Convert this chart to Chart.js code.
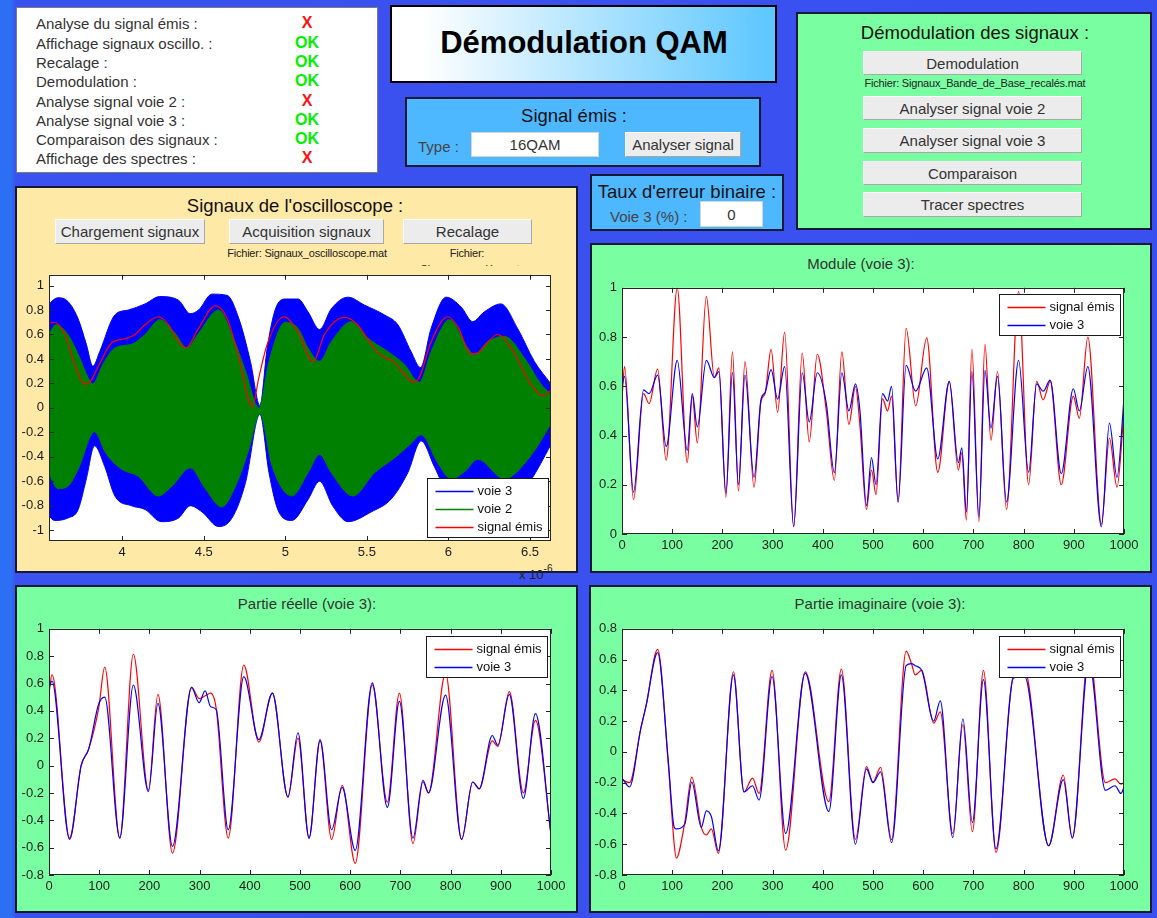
<!DOCTYPE html>
<html lang="fr">
<head>
<meta charset="utf-8">
<title>Démodulation QAM</title>
<script src="https://cdn.jsdelivr.net/npm/chart.js@4.4.1/dist/chart.umd.min.js"></script>
<style>
  html, body { margin: 0; padding: 0; }
  body {
    width: 1157px; height: 918px; position: relative; overflow: hidden;
    background: linear-gradient(90deg, #2c6ef4 0, #2c6ef4 11px, #3a52ef 16px, #3a4ff0 100%);
    font-family: "Liberation Sans", Arial, sans-serif; color: #333;
  }
  .box { position: absolute; box-sizing: border-box; }
  .panel { position: absolute; box-sizing: border-box; border: 2px solid #151935; }
  .green { background: #79ffa1; }
  .sky { background: #4db8ff; }
  .t { position: absolute; white-space: nowrap; transform: translate(-50%, -50%); }
  .l { position: absolute; white-space: nowrap; transform: translateY(-50%); }
  .h { font-size: 18.5px; color: #111; }
  .lab { font-size: 15px; color: #444; }
  .small { font-size: 11px; color: #222; letter-spacing: -0.2px; }
  .btn {
    position: absolute; box-sizing: border-box; background: #ececec;
    border: 1px solid; border-color: #fcfcfc #a8a8a8 #a8a8a8 #fcfcfc;
    font-size: 15px; color: #333; display: flex; align-items: center; justify-content: center; white-space: nowrap;
  }
  .field {
    position: absolute; box-sizing: border-box; background: #fff; border: 1px solid #d4d4d4;
    font-size: 15px; color: #333; display: flex; align-items: center; justify-content: center;
  }
  .ok { font-weight: bold; font-size: 16px; color: #00f000; }
  .ko { font-weight: bold; font-size: 16px; color: #ff1010; }
  .ct { font-size: 15px; color: #333; }
  canvas { position: absolute; }
</style>
</head>
<body>

<!-- état des étapes -->
<div class="box" style="left:16px;top:7px;width:362px;height:166px;background:#fff;border:1px solid #7c7c7c;"></div>
<div class="l lab" style="left:36px;top:23px;color:#333">Analyse du signal émis :</div>
<div class="l lab" style="left:36px;top:43px;color:#333">Affichage signaux oscillo. :</div>
<div class="l lab" style="left:36px;top:62px;color:#333">Recalage :</div>
<div class="l lab" style="left:36px;top:81px;color:#333">Demodulation :</div>
<div class="l lab" style="left:36px;top:101px;color:#333">Analyse signal voie 2 :</div>
<div class="l lab" style="left:36px;top:120px;color:#333">Analyse signal voie 3 :</div>
<div class="l lab" style="left:36px;top:139px;color:#333">Comparaison des signaux :</div>
<div class="l lab" style="left:36px;top:158px;color:#333">Affichage des spectres :</div>
<div class="t ko" style="left:307px;top:23px">X</div>
<div class="t ok" style="left:307px;top:43px">OK</div>
<div class="t ok" style="left:307px;top:62px">OK</div>
<div class="t ok" style="left:307px;top:81px">OK</div>
<div class="t ko" style="left:307px;top:101px">X</div>
<div class="t ok" style="left:307px;top:120px">OK</div>
<div class="t ok" style="left:307px;top:139px">OK</div>
<div class="t ko" style="left:307px;top:158px">X</div>

<!-- titre -->
<div class="box" style="left:390px;top:5px;width:387px;height:78px;border:2px solid #000;background:linear-gradient(90deg,#ffffff 8%,#5bc6ff 100%);"></div>
<div class="t" style="left:584px;top:43px;font-size:31px;font-weight:bold;color:#000">Démodulation QAM</div>

<!-- signal émis -->
<div class="panel sky" style="left:405px;top:97px;width:356px;height:70px;"></div>
<div class="t h" style="left:574px;top:116px">Signal émis :</div>
<div class="l lab" style="left:418px;top:146px">Type :</div>
<div class="field" style="left:471px;top:132px;width:128px;height:25px;">16QAM</div>
<div class="btn" style="left:625px;top:132px;width:116px;height:25px;">Analyser signal</div>

<!-- taux d'erreur -->
<div class="panel sky" style="left:590px;top:174px;width:194px;height:57px;"></div>
<div class="t h" style="left:687px;top:192px">Taux d'erreur binaire :</div>
<div class="l lab" style="left:610px;top:216px">Voie 3 (%) :</div>
<div class="field" style="left:700px;top:201px;width:63px;height:26px;">0</div>

<!-- démodulation -->
<div class="panel green" style="left:796px;top:12px;width:356px;height:218px;"></div>
<div class="t h" style="left:975px;top:33px">Démodulation des signaux :</div>
<div class="btn" style="left:863px;top:51px;width:219px;height:24px;">Demodulation</div>
<div class="t small" style="left:975px;top:83px">Fichier: Signaux_Bande_de_Base_recalés.mat</div>
<div class="btn" style="left:863px;top:96px;width:219px;height:24px;">Analyser signal voie 2</div>
<div class="btn" style="left:863px;top:128px;width:219px;height:25px;">Analyser signal voie 3</div>
<div class="btn" style="left:863px;top:161px;width:219px;height:24px;">Comparaison</div>
<div class="btn" style="left:863px;top:192px;width:219px;height:25px;">Tracer spectres</div>

<!-- oscilloscope -->
<div class="panel" style="left:15px;top:186px;width:563px;height:387px;background:#ffe9a6;"></div>
<div class="t h" style="left:295px;top:206px">Signaux de l'oscilloscope :</div>
<div class="btn" style="left:55px;top:219px;width:150px;height:25px;">Chargement signaux</div>
<div class="btn" style="left:229px;top:219px;width:155px;height:25px;">Acquisition signaux</div>
<div class="btn" style="left:403px;top:219px;width:129px;height:25px;">Recalage</div>
<div class="t small" style="left:307px;top:253px">Fichier: Signaux_oscilloscope.mat</div>
<div class="t small" style="left:467px;top:253px">Fichier:</div>
<div class="box" style="left:400px;top:258px;width:140px;height:8px;overflow:hidden;">
  <div class="small" style="position:absolute;left:0;width:140px;top:5px;line-height:12px;text-align:center;">Signaux_recalés.mat</div>
</div>

<!-- panneaux des courbes -->
<div class="panel green" style="left:590px;top:243px;width:562px;height:330px;"></div>
<div class="t ct" style="left:861px;top:263px">Module (voie 3):</div>
<div class="panel green" style="left:15px;top:585px;width:563px;height:328px;"></div>
<div class="t ct" style="left:307px;top:603px">Partie réelle (voie 3):</div>
<div class="panel green" style="left:589px;top:585px;width:563px;height:328px;"></div>
<div class="t ct" style="left:880px;top:603px">Partie imaginaire (voie 3):</div>

<canvas id="cOsc" width="558" height="300" style="left:17px;top:262px;width:558px;height:300px"></canvas>
<canvas id="cModule" width="556" height="290" style="left:592px;top:275px;width:556px;height:290px"></canvas>
<canvas id="cReel" width="558" height="290" style="left:17px;top:616px;width:558px;height:290px"></canvas>
<canvas id="cImag" width="556" height="290" style="left:592px;top:616px;width:556px;height:290px"></canvas>

<div class="box" style="left:519px;top:565px;font-size:13px;color:#222;white-space:nowrap;">x 10<sup style="font-size:10px;position:relative;top:-2px">-6</sup></div>

<script>
// --- oscilloscope (temps en 10^-6 s) ---
const oscXTicks = [4, 4.5, 5, 5.5, 6, 6.5];
const oscYTicks = [-1, -0.8, -0.6, -0.4, -0.2, 0, 0.2, 0.4, 0.6, 0.8, 1];

const voie3HautT = [3.548, 3.606, 3.667, 3.729, 3.78, 3.82, 3.862, 3.955, 4.037, 4.14, 4.23, 4.345, 4.417, 4.468, 4.55, 4.643, 4.715, 4.786, 4.844, 4.889, 4.94, 5.0, 5.078, 5.139, 5.21, 5.282, 5.384, 5.486, 5.608, 5.69, 5.771, 5.829, 5.894, 5.986, 6.078, 6.149, 6.22, 6.322, 6.424, 6.527, 6.629];
const voie3Haut = [0.85, 0.9, 0.87, 0.73, 0.52, 0.34, 0.46, 0.76, 0.8, 0.85, 0.91, 0.88, 0.77, 0.8, 0.93, 0.92, 0.73, 0.38, 0.02, 0.49, 0.81, 0.89, 0.89, 0.785, 0.64, 0.81, 0.905, 0.84, 0.76, 0.68, 0.46, 0.33, 0.65, 0.905, 0.825, 0.705, 0.785, 0.85, 0.65, 0.38, 0.195];

const voie3BasT = [3.548, 3.585, 3.667, 3.73, 3.78, 3.83, 3.893, 3.955, 4.057, 4.14, 4.24, 4.345, 4.417, 4.489, 4.591, 4.673, 4.756, 4.844, 4.9, 4.96, 5.04, 5.139, 5.21, 5.29, 5.384, 5.527, 5.649, 5.751, 5.833, 5.914, 5.996, 6.1, 6.18, 6.33, 6.5, 6.629];
const voie3Bas = [-0.88, -0.92, -0.9, -0.83, -0.58, -0.31, -0.48, -0.72, -0.8, -0.83, -0.93, -0.9, -0.8, -0.85, -0.97, -0.9, -0.61, -0.05, -0.53, -0.85, -0.92, -0.75, -0.6, -0.8, -0.93, -0.85, -0.745, -0.53, -0.27, -0.48, -0.7, -0.75, -0.58, -0.82, -0.6, -0.3];

const voie2HautT = [3.548, 3.595, 3.667, 3.729, 3.79, 3.82, 3.883, 3.955, 4.057, 4.14, 4.23, 4.324, 4.396, 4.468, 4.591, 4.673, 4.756, 4.838, 4.9, 5.0, 5.078, 5.139, 5.21, 5.282, 5.404, 5.506, 5.629, 5.73, 5.822, 5.894, 6.006, 6.118, 6.159, 6.24, 6.343, 6.465, 6.567, 6.629];
const voie2Haut = [0.6, 0.68, 0.6, 0.44, 0.25, 0.195, 0.36, 0.49, 0.52, 0.6, 0.72, 0.61, 0.49, 0.61, 0.8, 0.6, 0.3, 0.0, 0.38, 0.7, 0.65, 0.49, 0.38, 0.54, 0.705, 0.57, 0.46, 0.355, 0.21, 0.46, 0.72, 0.49, 0.435, 0.54, 0.585, 0.41, 0.195, 0.11];

const voie2BasT = [3.548, 3.606, 3.667, 3.73, 3.83, 3.9, 3.995, 4.1, 4.22, 4.304, 4.417, 4.51, 4.61, 4.694, 4.776, 4.844, 4.92, 5.04, 5.139, 5.21, 5.282, 5.414, 5.547, 5.669, 5.771, 5.833, 5.935, 6.016, 6.1, 6.18, 6.343, 6.5, 6.629];
const voie2Bas = [-0.53, -0.66, -0.64, -0.5, -0.195, -0.37, -0.5, -0.56, -0.72, -0.64, -0.49, -0.66, -0.81, -0.64, -0.34, -0.05, -0.48, -0.72, -0.53, -0.38, -0.53, -0.72, -0.53, -0.41, -0.29, -0.22, -0.45, -0.58, -0.52, -0.42, -0.58, -0.4, -0.13];

const emisOscT = [3.548, 3.585, 3.647, 3.708, 3.766, 3.8, 3.85, 3.934, 4.016, 4.078, 4.14, 4.222, 4.283, 4.345, 4.39, 4.468, 4.571, 4.643, 4.715, 4.797, 4.838, 4.889, 4.99, 5.078, 5.17, 5.24, 5.363, 5.435, 5.567, 5.669, 5.73, 5.78, 5.822, 5.894, 5.996, 6.057, 6.139, 6.18, 6.302, 6.384, 6.506, 6.578, 6.629];
const emisOsc = [0.7, 0.7, 0.6, 0.36, 0.195, 0.21, 0.33, 0.53, 0.565, 0.6, 0.68, 0.745, 0.68, 0.54, 0.49, 0.65, 0.835, 0.73, 0.41, 0.007, 0.25, 0.52, 0.745, 0.62, 0.375, 0.6, 0.74, 0.69, 0.45, 0.37, 0.275, 0.21, 0.25, 0.54, 0.745, 0.665, 0.44, 0.45, 0.6, 0.49, 0.195, 0.1, 0.146];

// --- signaux démodulés (indice d'échantillon) ---
const idxTicks = [0, 100, 200, 300, 400, 500, 600, 700, 800, 900, 1000];
const moduleYTicks = [0, 0.2, 0.4, 0.6, 0.8, 1];
const reelYTicks = [-0.8, -0.6, -0.4, -0.2, 0, 0.2, 0.4, 0.6, 0.8, 1];
const imagYTicks = [-0.8, -0.6, -0.4, -0.2, 0, 0.2, 0.4, 0.6, 0.8];

const moduleIdx = [0, 5, 23, 43, 54, 71, 88, 110, 130, 140, 150, 168, 184, 193, 207, 220, 232, 245, 263, 277, 285, 297, 310, 324, 342, 359, 373, 389, 407, 423, 438, 452, 465, 474, 487, 497, 506, 519, 529, 537, 550, 566, 585, 607, 629, 652, 670, 677, 686, 697, 711, 723, 735, 748, 766, 790, 810, 826, 839, 853, 875, 899, 911, 928, 955, 971, 986, 1000];
const moduleEmis = [0.55, 0.68, 0.14, 0.57, 0.53, 0.67, 0.3, 1.0, 0.29, 0.56, 0.37, 0.965, 0.635, 0.675, 0.15, 0.74, 0.175, 0.7, 0.19, 0.54, 0.57, 0.75, 0.495, 0.82, 0.03, 0.735, 0.375, 0.73, 0.5, 0.218, 0.74, 0.445, 0.6, 0.44, 0.1, 0.26, 0.16, 0.55, 0.5, 0.56, 0.13, 0.835, 0.52, 0.797, 0.25, 0.62, 0.26, 0.33, 0.056, 0.75, 0.05, 0.77, 0.38, 0.66, 0.1, 0.985, 0.2, 0.62, 0.545, 0.62, 0.2, 0.56, 0.47, 0.8, 0.04, 0.39, 0.19, 0.5];
const moduleVoie3 = [0.6, 0.64, 0.17, 0.585, 0.57, 0.645, 0.355, 0.705, 0.34, 0.57, 0.435, 0.705, 0.635, 0.66, 0.165, 0.657, 0.2, 0.645, 0.23, 0.548, 0.575, 0.668, 0.548, 0.68, 0.03, 0.655, 0.455, 0.655, 0.53, 0.249, 0.655, 0.5, 0.61, 0.5, 0.115, 0.31, 0.2, 0.57, 0.54, 0.6, 0.13, 0.685, 0.58, 0.675, 0.305, 0.62, 0.29, 0.35, 0.09, 0.66, 0.07, 0.665, 0.43, 0.64, 0.13, 0.705, 0.25, 0.61, 0.58, 0.625, 0.245, 0.59, 0.5, 0.68, 0.03, 0.45, 0.23, 0.55];

const reelIdx = [0, 6, 41, 64, 79, 99, 111, 141, 168, 198, 217, 246, 284, 299, 311, 322, 333, 357, 388, 418, 445, 476, 496, 518, 540, 563, 584, 610, 644, 674, 698, 725, 745, 756, 790, 822, 844, 857, 883, 894, 917, 945, 969, 1000];
const reelEmis = [0.53, 0.665, -0.53, 0.0, 0.12, 0.42, 0.72, -0.53, 0.814, -0.18, 0.52, -0.641, 0.574, 0.49, 0.51, 0.53, 0.42, -0.53, 0.735, 0.172, 0.53, -0.23, 0.2, -0.53, 0.18, -0.54, -0.144, -0.715, 0.59, -0.268, 0.53, -0.57, -0.12, -0.2, 0.675, -0.54, -0.12, -0.17, 0.18, 0.14, 0.54, -0.2, 0.33, -0.5];
const reelVoie3 = [0.57, 0.617, -0.54, 0.0, 0.12, 0.45, 0.5, -0.53, 0.589, -0.19, 0.455, -0.59, 0.57, 0.46, 0.546, 0.43, 0.41, -0.47, 0.65, 0.19, 0.53, -0.23, 0.24, -0.53, 0.19, -0.47, -0.16, -0.62, 0.605, -0.306, 0.47, -0.53, -0.108, -0.2, 0.515, -0.54, -0.12, -0.17, 0.22, 0.15, 0.52, -0.24, 0.38, -0.51];

const imagIdx = [0, 15, 37, 48, 71, 92, 104, 108, 125, 139, 158, 168, 178, 192, 222, 243, 260, 273, 299, 326, 365, 412, 437, 465, 487, 500, 515, 537, 566, 577, 584, 597, 621, 634, 659, 679, 698, 720, 745, 780, 802, 850, 879, 897, 930, 963, 982, 994, 1000];
const imagEmis = [-0.18, -0.2, 0.145, 0.3, 0.666, -0.07, -0.6, -0.69, -0.46, -0.164, -0.49, -0.54, -0.5, -0.66, 0.521, -0.26, -0.17, -0.27, 0.53, -0.638, 0.52, -0.323, 0.538, -0.568, -0.096, -0.196, -0.1, -0.57, 0.655, 0.57, 0.5, 0.53, 0.187, 0.26, -0.53, 0.177, -0.519, 0.53, -0.653, 0.5, 0.53, -0.61, -0.15, -0.557, 0.65, -0.2, -0.175, -0.21, -0.2];
const imagVoie3 = [-0.17, -0.228, 0.145, 0.3, 0.645, -0.05, -0.49, -0.5, -0.47, -0.196, -0.49, -0.383, -0.42, -0.643, 0.5, -0.26, -0.22, -0.313, 0.49, -0.53, 0.51, -0.387, 0.5, -0.6, -0.11, -0.2, -0.13, -0.59, 0.56, 0.574, 0.56, 0.53, 0.2, 0.332, -0.557, 0.215, -0.46, 0.47, -0.63, 0.48, 0.49, -0.61, -0.18, -0.56, 0.6, -0.25, -0.22, -0.27, -0.23];

const ROUGE = "#ff0000";
const BLEU = "#0000ff";
const VERT = "#008000";
const tickFont = { family: "'Liberation Sans', Arial, sans-serif", size: 13 };

function pts(xs, ys) {
  return xs.map((x, i) => ({ x, y: ys[i] }));
}

const fmt = (v) => String(Math.round(v * 10) / 10);

// cadre façon axes matlab : fond blanc, graduations vers l'intérieur, légende dans le tracé
function matlabFrame(legend) {
  return {
    id: "matlabFrame",
    beforeDraw(chart) {
      const { ctx, chartArea: a } = chart;
      ctx.save();
      ctx.fillStyle = "#fff";
      ctx.fillRect(a.left, a.top, a.right - a.left, a.bottom - a.top);
      ctx.restore();
    },
    afterDatasetsDraw(chart) {
      const { ctx, chartArea: a, scales } = chart;
      ctx.save();
      ctx.strokeStyle = "#262626";
      ctx.lineWidth = 1;
      ctx.beginPath();
      for (const t of scales.x.ticks) {
        const px = Math.round(scales.x.getPixelForValue(t.value)) + 0.5;
        ctx.moveTo(px, a.bottom); ctx.lineTo(px, a.bottom - 5);
        ctx.moveTo(px, a.top); ctx.lineTo(px, a.top + 5);
      }
      for (const t of scales.y.ticks) {
        const py = Math.round(scales.y.getPixelForValue(t.value)) + 0.5;
        ctx.moveTo(a.left, py); ctx.lineTo(a.left + 5, py);
        ctx.moveTo(a.right, py); ctx.lineTo(a.right - 5, py);
      }
      ctx.stroke();
      ctx.strokeRect(Math.round(a.left) + 0.5, Math.round(a.top) + 0.5, Math.round(a.right - a.left) - 1, Math.round(a.bottom - a.top) - 1);

      const w = 121;
      const h = legend.items.length * 18 + 5;
      const x = Math.round(a.right - legend.dx - w) + 0.5;
      const y = Math.round(legend.corner === "ne" ? a.top + legend.dy : a.bottom - legend.dy - h) + 0.5;
      ctx.fillStyle = "#fff";
      ctx.fillRect(x, y, w, h);
      ctx.strokeStyle = "#1a1a1a";
      ctx.strokeRect(x, y, w, h);
      ctx.font = "13px 'Liberation Sans', Arial, sans-serif";
      ctx.textBaseline = "middle";
      legend.items.forEach((it, i) => {
        const cy = Math.round(y + 12 + i * 18) + 0.5;
        ctx.strokeStyle = it.color;
        ctx.lineWidth = 1.3;
        ctx.beginPath();
        ctx.moveTo(x + 8, cy); ctx.lineTo(x + 46, cy);
        ctx.stroke();
        ctx.fillStyle = "#111";
        ctx.fillText(it.label, x + 50, cy);
      });
      ctx.restore();
    },
  };
}

function makeChart(id, datasets, o) {
  return new Chart(document.getElementById(id), {
    type: "line",
    data: { datasets },
    options: {
      responsive: false,
      animation: false,
      devicePixelRatio: 1,
      layout: { padding: { top: o.padTop, right: o.padRight, left: 0, bottom: 0 } },
      elements: {
        point: { radius: 0 },
        line: { borderWidth: 1.2, cubicInterpolationMode: "monotone" },
      },
      plugins: { legend: { display: false }, tooltip: { enabled: false } },
      scales: {
        x: {
          type: "linear", min: o.xMin, max: o.xMax,
          grid: { display: false, drawTicks: false }, border: { display: false },
          afterBuildTicks: (s) => { s.ticks = o.xTicks.map((v) => ({ value: v })); },
          afterFit: (s) => { s.height = o.xH; },
          ticks: { autoSkip: false, maxRotation: 0, padding: 4, color: "#1c1c1c", font: tickFont, callback: fmt },
        },
        y: {
          type: "linear", min: o.yMin, max: o.yMax,
          grid: { display: false, drawTicks: false }, border: { display: false },
          afterBuildTicks: (s) => { s.ticks = o.yTicks.map((v) => ({ value: v })); },
          afterFit: (s) => { s.width = o.yW; },
          ticks: { autoSkip: false, padding: 5, color: "#1c1c1c", font: tickFont, callback: fmt },
        },
      },
    },
    plugins: [matlabFrame(o.legend)],
  });
}

const env = (xs, ys, color, order) => ({
  data: pts(xs, ys), borderColor: color, backgroundColor: color, borderWidth: 1, fill: "origin", order,
});

makeChart("cOsc", [
  { data: pts(emisOscT, emisOsc), borderColor: ROUGE, order: 0, fill: false },
  env(voie2HautT, voie2Haut, VERT, 1),
  env(voie2BasT, voie2Bas, VERT, 1),
  env(voie3HautT, voie3Haut, BLEU, 2),
  env(voie3BasT, voie3Bas, BLEU, 2),
], {
  xMin: 3.551, xMax: 6.629, xTicks: oscXTicks, yMin: -1.088, yMax: 1.088, yTicks: oscYTicks,
  padTop: 9, padRight: 24, yW: 32, xH: 21,
  legend: { corner: "se", dx: 3, dy: 4, items: [
    { label: "voie 3", color: BLEU }, { label: "voie 2", color: VERT }, { label: "signal émis", color: ROUGE },
  ] },
});

const comparaison = [{ label: "signal émis", color: ROUGE }, { label: "voie 3", color: BLEU }];

makeChart("cModule", [
  { data: pts(moduleIdx, moduleEmis), borderColor: ROUGE, order: 1, fill: false },
  { data: pts(moduleIdx, moduleVoie3), borderColor: BLEU, order: 0, fill: false },
], {
  xMin: 0, xMax: 1000, xTicks: idxTicks, yMin: 0, yMax: 1, yTicks: moduleYTicks,
  padTop: 8, padRight: 24, yW: 30, xH: 31,
  legend: { corner: "ne", dx: 4, dy: 6, items: comparaison },
});

makeChart("cReel", [
  { data: pts(reelIdx, reelEmis), borderColor: ROUGE, order: 1, fill: false },
  { data: pts(reelIdx, reelVoie3), borderColor: BLEU, order: 0, fill: false },
], {
  xMin: 0, xMax: 1000, xTicks: idxTicks, yMin: -0.8, yMax: 1, yTicks: reelYTicks,
  padTop: 8, padRight: 24, yW: 32, xH: 31,
  legend: { corner: "ne", dx: 4, dy: 7, items: comparaison },
});

makeChart("cImag", [
  { data: pts(imagIdx, imagEmis), borderColor: ROUGE, order: 1, fill: false },
  { data: pts(imagIdx, imagVoie3), borderColor: BLEU, order: 0, fill: false },
], {
  xMin: 0, xMax: 1000, xTicks: idxTicks, yMin: -0.8, yMax: 0.8, yTicks: imagYTicks,
  padTop: 8, padRight: 24, yW: 30, xH: 31,
  legend: { corner: "ne", dx: 4, dy: 7, items: comparaison },
});
</script>
</body>
</html>
